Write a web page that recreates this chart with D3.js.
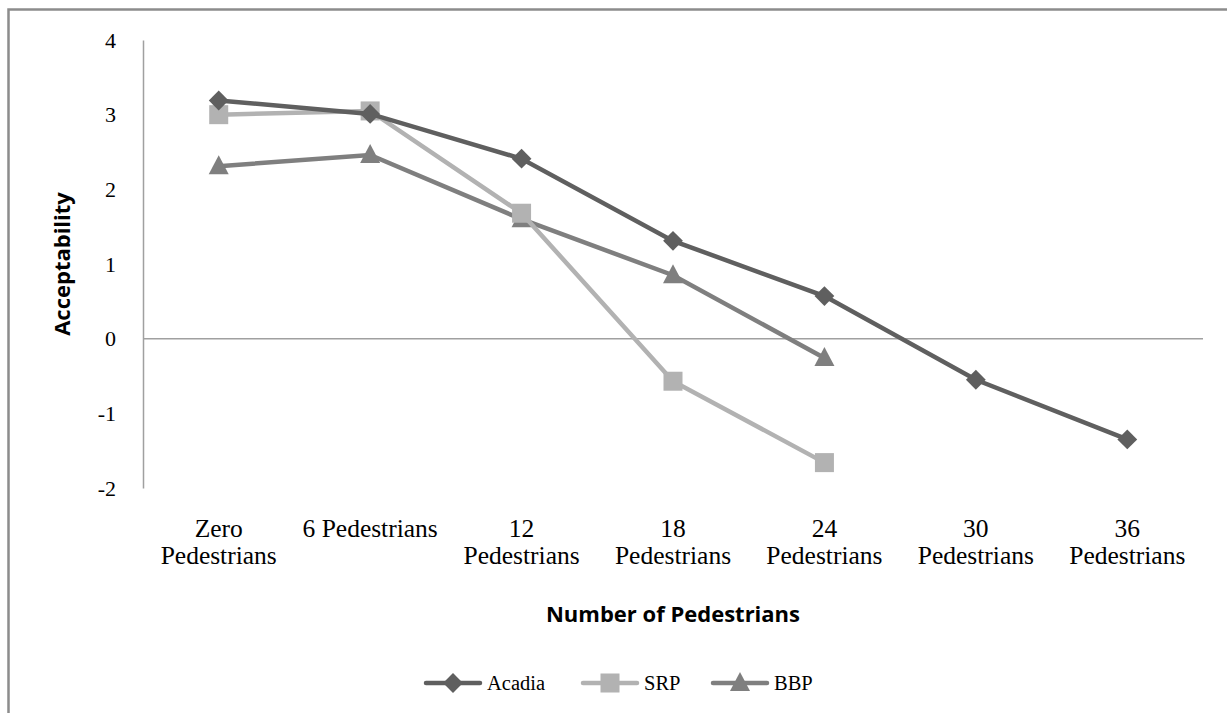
<!DOCTYPE html>
<html>
<head>
<meta charset="utf-8">
<script src="https://cdn.jsdelivr.net/npm/d3@7"></script>
<style>
  body { margin: 0; background: #fff; }
  svg { display: block; }
</style>
</head>
<body>
<svg id="chart"></svg>
<script>
// data
const categories = [
  ['Zero', 'Pedestrians'],
  ['6 Pedestrians'],
  ['12', 'Pedestrians'],
  ['18', 'Pedestrians'],
  ['24', 'Pedestrians'],
  ['30', 'Pedestrians'],
  ['36', 'Pedestrians']
];
const acadia = [3.19, 3.01, 2.41, 1.31, 0.57, -0.55, -1.35];
const srp = [3.0, 3.05, 1.68, -0.57, -1.66];
const bbp = [2.31, 2.46, 1.6, 0.85, -0.26];
const yTicks = [-2, -1, 0, 1, 2, 3, 4];

const series = [
  { name: 'Acadia', values: acadia, color: '#5f5f5f', symbol: 'diamond' },
  { name: 'SRP', values: srp, color: '#b2b2b2', symbol: 'square' },
  { name: 'BBP', values: bbp, color: '#7f7f7f', symbol: 'triangle' }
];

const width = 1227, height = 713;
const margin = { top: 40, right: 24, bottom: 225, left: 143 };
const serif = '"Liberation Serif", "Times New Roman", serif';
const sans = '"Open Sans", "Liberation Sans", sans-serif';

const svg = d3.select('#chart')
  .attr('width', width)
  .attr('height', height);

// outer frame
svg.append('rect')
  .attr('x', 8.5).attr('y', 9.5)
  .attr('width', width).attr('height', height)
  .attr('fill', 'none')
  .attr('stroke', '#8c8c8c')
  .attr('stroke-width', 2.5);

const x = d3.scaleBand()
  .domain(d3.range(categories.length))
  .range([margin.left, width - margin.right]);

const y = d3.scaleLinear()
  .domain([-2, 4])
  .range([height - margin.bottom, margin.top]);

const cx = i => x(i) + x.bandwidth() / 2;

// y axis
const yAxis = svg.append('g')
  .attr('transform', `translate(${margin.left},0)`)
  .call(d3.axisLeft(y).tickValues(yTicks).tickSize(0).tickPadding(27).tickFormat(d => String(d)));
yAxis.select('.domain').attr('stroke', '#a0a0a0').attr('stroke-width', 1.5);
yAxis.selectAll('text')
  .attr('font-family', serif)
  .attr('font-size', 22)
  .attr('fill', '#000');

// zero line
svg.append('line')
  .attr('x1', margin.left).attr('x2', width - margin.right)
  .attr('y1', y(0)).attr('y2', y(0))
  .attr('stroke', '#a0a0a0')
  .attr('stroke-width', 1.5);

// category labels below the plot
const catLabels = svg.append('g')
  .selectAll('text')
  .data(categories)
  .join('text')
  .attr('x', (d, i) => cx(i))
  .attr('y', 537)
  .attr('text-anchor', 'middle')
  .attr('font-family', serif)
  .attr('font-size', 25.5)
  .attr('fill', '#000');
catLabels.selectAll('tspan')
  .data(d => d)
  .join('tspan')
  .attr('x', function () { return d3.select(this.parentNode).attr('x'); })
  .attr('dy', (d, i) => i === 0 ? 0 : 27)
  .text(d => d);

// axis titles
svg.append('text')
  .attr('x', 673).attr('y', 622)
  .attr('text-anchor', 'middle')
  .attr('font-family', sans)
  .attr('font-weight', 'bold')
  .attr('font-size', 22)
  .text('Number of Pedestrians');

svg.append('text')
  .attr('transform', 'translate(70,264) rotate(-90)')
  .attr('text-anchor', 'middle')
  .attr('font-family', sans)
  .attr('font-weight', 'bold')
  .attr('font-size', 22)
  .text('Acceptability');

// symbols
function marker(sel, s, px, py) {
  if (s.symbol === 'diamond') {
    sel.append('rect')
      .attr('x', -7).attr('y', -7).attr('width', 14).attr('height', 14)
      .attr('transform', `translate(${px},${py}) rotate(45)`)
      .attr('fill', s.color);
  } else if (s.symbol === 'square') {
    sel.append('rect')
      .attr('x', px - 9.5).attr('y', py - 9.5).attr('width', 19).attr('height', 19)
      .attr('fill', s.color);
  } else {
    sel.append('path')
      .attr('d', `M${px},${py - 11}L${px + 10},${py + 8}L${px - 10},${py + 8}Z`)
      .attr('fill', s.color);
  }
}

const line = d3.line()
  .x((d, i) => cx(i))
  .y(d => y(d));

// draw in reverse so Acadia sits on top
[...series].reverse().forEach(s => {
  const g = svg.append('g');
  g.append('path')
    .datum(s.values)
    .attr('fill', 'none')
    .attr('stroke', s.color)
    .attr('stroke-width', 4.5)
    .attr('d', line);
  s.values.forEach((v, i) => marker(g, s, cx(i), y(v)));
});

// legend
const legendX = [426, 583, 713];
series.forEach((s, k) => {
  const g = svg.append('g');
  const lx = legendX[k], ly = 683;
  g.append('line')
    .attr('x1', lx).attr('x2', lx + 54)
    .attr('y1', ly).attr('y2', ly)
    .attr('stroke', s.color)
    .attr('stroke-width', 4.5)
    .attr('stroke-linecap', 'round');
  marker(g, s, lx + 27, ly);
  g.append('text')
    .attr('x', lx + 61).attr('y', ly + 7)
    .attr('font-family', serif)
    .attr('font-size', 20.5)
    .text(s.name);
});
</script>
</body>
</html>
